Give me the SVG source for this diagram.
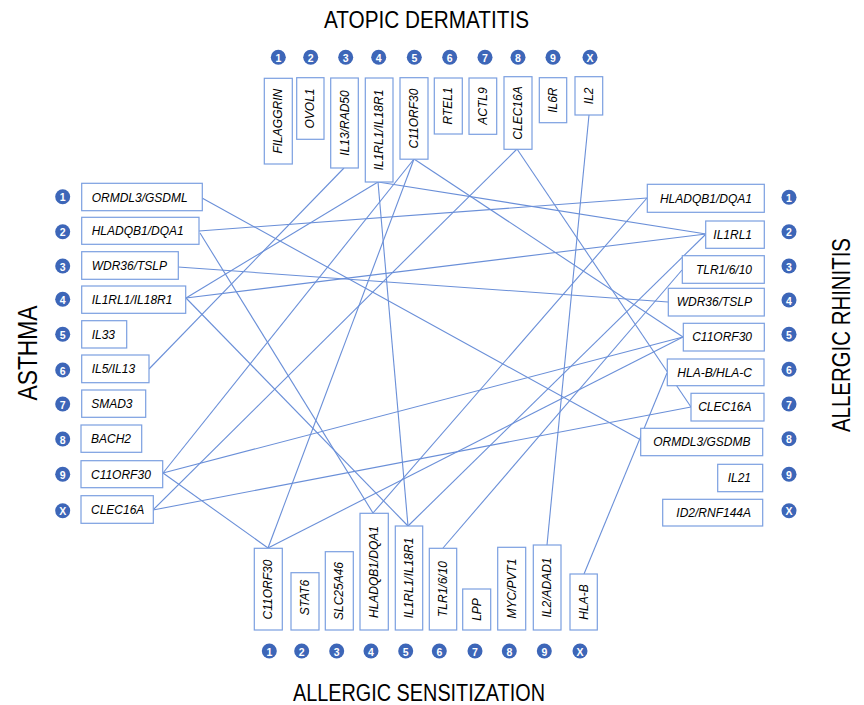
<svg xmlns="http://www.w3.org/2000/svg" width="864" height="705" viewBox="0 0 864 705">
<style>
.bx{fill:#fff;stroke:#7b9fe0;stroke-width:1.2}
.lb{font-family:"Liberation Sans",Arial,sans-serif;font-style:italic;font-size:12px;fill:#000}
.vt{font-family:"Liberation Sans",Arial,sans-serif;font-style:italic;font-size:12px;fill:#000;text-anchor:middle;dominant-baseline:central}
.ci{fill:#3d66b8}
.cn{font-family:"Liberation Sans",Arial,sans-serif;font-weight:bold;font-size:10.5px;fill:#fff;text-anchor:middle;dominant-baseline:central}
.ti{font-family:"Liberation Sans",Arial,sans-serif;fill:#000;text-anchor:middle}
.cx line{stroke:#6a8fd8;stroke-width:1.1}
</style>
<rect width="864" height="705" fill="#fff"/>
<text class="ti" x="426.5" y="28" font-size="23" textLength="205" lengthAdjust="spacingAndGlyphs">ATOPIC DERMATITIS</text>
<text class="ti" x="419" y="701" font-size="23" textLength="252" lengthAdjust="spacingAndGlyphs">ALLERGIC SENSITIZATION</text>
<text class="ti" transform="translate(37,353) rotate(-90)" font-size="27" textLength="95" lengthAdjust="spacingAndGlyphs">ASTHMA</text>
<text class="ti" transform="translate(850,335) rotate(-90)" font-size="25" textLength="194" lengthAdjust="spacingAndGlyphs">ALLERGIC RHINITIS</text>
<g id="connectors" class="cx">
<line x1="202" y1="198" x2="641" y2="440"/>
<line x1="199" y1="231" x2="647" y2="198"/>
<line x1="200" y1="233" x2="373" y2="513"/>
<line x1="178" y1="267" x2="668" y2="302"/>
<line x1="186" y1="298" x2="706" y2="234"/>
<line x1="186" y1="298" x2="378" y2="182"/>
<line x1="186" y1="298" x2="408" y2="526"/>
<line x1="149" y1="369" x2="344" y2="168"/>
<line x1="163" y1="473" x2="414" y2="159"/>
<line x1="163" y1="473" x2="683" y2="337"/>
<line x1="163" y1="473" x2="268" y2="548"/>
<line x1="153" y1="510" x2="517" y2="149"/>
<line x1="153" y1="510" x2="691" y2="407"/>
<line x1="378" y1="182" x2="706" y2="234"/>
<line x1="378" y1="182" x2="408" y2="526"/>
<line x1="414" y1="159" x2="683" y2="337"/>
<line x1="414" y1="159" x2="268" y2="548"/>
<line x1="517" y1="149" x2="691" y2="407"/>
<line x1="589" y1="115" x2="547" y2="545"/>
<line x1="647" y1="198" x2="373" y2="513"/>
<line x1="706" y1="234" x2="408" y2="526"/>
<line x1="682" y1="270" x2="443" y2="548"/>
<line x1="683" y1="337" x2="268" y2="548"/>
<line x1="667" y1="373" x2="584" y2="574"/>
</g>
<!-- Top: Atopic dermatitis -->
<g id="t1"><circle class="ci" cx="278.3" cy="57.3" r="7.5"/><text class="cn" x="278.3" y="57.8">1</text><rect class="bx" x="264.3" y="78.3" width="28" height="85.7"/><text class="vt" transform="translate(278.3,121.2) rotate(-90)">FILAGGRIN</text></g>
<g id="t2"><circle class="ci" cx="310.7" cy="57.3" r="7.5"/><text class="cn" x="310.7" y="57.8">2</text><rect class="bx" x="296.7" y="77.7" width="27.3" height="61.6"/><text class="vt" transform="translate(310.3,108.5) rotate(-90)">OVOL1</text></g>
<g id="t3"><circle class="ci" cx="345.7" cy="57.3" r="7.5"/><text class="cn" x="345.7" y="57.8">3</text><rect class="bx" x="330.7" y="78" width="27.6" height="90"/><text class="vt" transform="translate(344.5,123) rotate(-90)">IL13/RAD50</text></g>
<g id="t4"><circle class="ci" cx="378.7" cy="57.3" r="7.5"/><text class="cn" x="378.7" y="57.8">4</text><rect class="bx" x="365.3" y="78" width="27.7" height="104"/><text class="vt" transform="translate(379.2,130) rotate(-90)">IL1RL1/IL18R1</text></g>
<g id="t5"><circle class="ci" cx="414.3" cy="57.3" r="7.5"/><text class="cn" x="414.3" y="57.8">5</text><rect class="bx" x="400" y="77.7" width="28" height="81.5"/><text class="vt" transform="translate(414,118.5) rotate(-90)">C11ORF30</text></g>
<g id="t6"><circle class="ci" cx="449.7" cy="57.3" r="7.5"/><text class="cn" x="449.7" y="57.8">6</text><rect class="bx" x="434.3" y="78" width="28" height="56"/><text class="vt" transform="translate(448.3,106) rotate(-90)">RTEL1</text></g>
<g id="t7"><circle class="ci" cx="485" cy="57.3" r="7.5"/><text class="cn" x="485" y="57.8">7</text><rect class="bx" x="469" y="78" width="27.7" height="56.3"/><text class="vt" transform="translate(482.8,106) rotate(-90)">ACTL9</text></g>
<g id="t8"><circle class="ci" cx="518" cy="57.3" r="7.5"/><text class="cn" x="518" y="57.8">8</text><rect class="bx" x="504" y="76.7" width="28" height="72.6"/><text class="vt" transform="translate(518,113) rotate(-90)">CLEC16A</text></g>
<g id="t9"><circle class="ci" cx="553" cy="57.3" r="7.5"/><text class="cn" x="553" y="57.8">9</text><rect class="bx" x="539.3" y="77.7" width="27.4" height="45"/><text class="vt" transform="translate(553,100.2) rotate(-90)">IL6R</text></g>
<g id="t10"><circle class="ci" cx="590" cy="57.3" r="7.5"/><text class="cn" x="590" y="57.8">X</text><rect class="bx" x="575" y="76.7" width="27.7" height="38.3"/><text class="vt" transform="translate(588.8,95.8) rotate(-90)">IL2</text></g>
<!-- Left: Asthma -->
<g id="l1"><circle class="ci" cx="62.7" cy="196.7" r="7.5"/><text class="cn" x="62.7" y="197.2">1</text><rect class="bx" x="81.7" y="183.3" width="120.6" height="27.4"/><text class="lb" x="91.7" y="201.5">ORMDL3/GSDML</text></g>
<g id="l2"><circle class="ci" cx="62.7" cy="231.7" r="7.5"/><text class="cn" x="62.7" y="232.2">2</text><rect class="bx" x="81.7" y="217.3" width="117.3" height="27"/><text class="lb" x="91.7" y="235.3">HLADQB1/DQA1</text></g>
<g id="l3"><circle class="ci" cx="62.7" cy="266" r="7.5"/><text class="cn" x="62.7" y="266.5">3</text><rect class="bx" x="81.7" y="251.7" width="96.6" height="27.6"/><text class="lb" x="91.7" y="269.8">WDR36/TSLP</text></g>
<g id="l4"><circle class="ci" cx="62.7" cy="299.3" r="7.5"/><text class="cn" x="62.7" y="299.8">4</text><rect class="bx" x="81.7" y="286" width="104" height="27.3"/><text class="lb" x="91.7" y="304">IL1RL1/IL18R1</text></g>
<g id="l5"><circle class="ci" cx="62.7" cy="334.3" r="7.5"/><text class="cn" x="62.7" y="334.8">5</text><rect class="bx" x="81.7" y="320.7" width="45" height="27.3"/><text class="lb" x="91.7" y="338.7">IL33</text></g>
<g id="l6"><circle class="ci" cx="62.7" cy="370" r="7.5"/><text class="cn" x="62.7" y="370.5">6</text><rect class="bx" x="81.7" y="355" width="67.3" height="27.7"/><text class="lb" x="91.7" y="373.2">IL5/IL13</text></g>
<g id="l7"><circle class="ci" cx="62.7" cy="404" r="7.5"/><text class="cn" x="62.7" y="404.5">7</text><rect class="bx" x="81.7" y="390" width="64" height="27.3"/><text class="lb" x="91.2" y="408">SMAD3</text></g>
<g id="l8"><circle class="ci" cx="62.7" cy="439" r="7.5"/><text class="cn" x="62.7" y="439.5">8</text><rect class="bx" x="81" y="425" width="60.7" height="27.3"/><text class="lb" x="91" y="443">BACH2</text></g>
<g id="l9"><circle class="ci" cx="62.7" cy="474.3" r="7.5"/><text class="cn" x="62.7" y="474.8">9</text><rect class="bx" x="81" y="460.7" width="81.7" height="27"/><text class="lb" x="91" y="478.5">C11ORF30</text></g>
<g id="l10"><circle class="ci" cx="62.7" cy="510.7" r="7.5"/><text class="cn" x="62.7" y="511.2">X</text><rect class="bx" x="81" y="495.7" width="72.3" height="27.6"/><text class="lb" x="91" y="513.8">CLEC16A</text></g>
<!-- Right: Allergic rhinitis -->
<g id="r1"><circle class="ci" cx="789" cy="197.3" r="7.5"/><text class="cn" x="789" y="197.8">1</text><rect class="bx" x="647.3" y="184.3" width="117" height="28"/><text class="lb" x="752" y="202.6" text-anchor="end">HLADQB1/DQA1</text></g>
<g id="r2"><circle class="ci" cx="789" cy="231.7" r="7.5"/><text class="cn" x="789" y="232.2">2</text><rect class="bx" x="705.7" y="221" width="58.6" height="27.3"/><text class="lb" x="752" y="238.9" text-anchor="end">IL1RL1</text></g>
<g id="r3"><circle class="ci" cx="789" cy="266" r="7.5"/><text class="cn" x="789" y="266.5">3</text><rect class="bx" x="682.3" y="255.7" width="82" height="27.6"/><text class="lb" x="752" y="273.8" text-anchor="end">TLR1/6/10</text></g>
<g id="r4"><circle class="ci" cx="789" cy="300" r="7.5"/><text class="cn" x="789" y="300.5">4</text><rect class="bx" x="668.3" y="288.3" width="96" height="27.7"/><text class="lb" x="752" y="306.4" text-anchor="end">WDR36/TSLP</text></g>
<g id="r5"><circle class="ci" cx="789" cy="334.3" r="7.5"/><text class="cn" x="789" y="334.8">5</text><rect class="bx" x="683.3" y="323.3" width="81" height="27.7"/><text class="lb" x="752" y="341.4" text-anchor="end">C11ORF30</text></g>
<g id="r6"><circle class="ci" cx="789" cy="369.3" r="7.5"/><text class="cn" x="789" y="369.8">6</text><rect class="bx" x="667.3" y="359" width="96.7" height="26.7"/><text class="lb" x="752" y="376.6" text-anchor="end">HLA-B/HLA-C</text></g>
<g id="r7"><circle class="ci" cx="789" cy="404" r="7.5"/><text class="cn" x="789" y="404.5">7</text><rect class="bx" x="691" y="393.3" width="73" height="27.7"/><text class="lb" x="751.5" y="411.4" text-anchor="end">CLEC16A</text></g>
<g id="r8"><circle class="ci" cx="789" cy="438.7" r="7.5"/><text class="cn" x="789" y="439.2">8</text><rect class="bx" x="640.7" y="428.3" width="122" height="27.4"/><text class="lb" x="750.5" y="446.3" text-anchor="end">ORMDL3/GSDMB</text></g>
<g id="r9"><circle class="ci" cx="789" cy="474.3" r="7.5"/><text class="cn" x="789" y="474.8">9</text><rect class="bx" x="717.7" y="464.3" width="45" height="27.4"/><text class="lb" x="751" y="482.3" text-anchor="end">IL21</text></g>
<g id="r10"><circle class="ci" cx="789" cy="510.7" r="7.5"/><text class="cn" x="789" y="511.2">X</text><rect class="bx" x="662.7" y="499.3" width="100" height="26.7"/><text class="lb" x="751" y="517" text-anchor="end">ID2/RNF144A</text></g>
<!-- Bottom: Allergic sensitization -->
<g id="b1"><rect class="bx" x="254.3" y="548.3" width="28" height="81.7"/><text class="vt" transform="translate(268.3,589.5) rotate(-90)">C11ORF30</text><circle class="ci" cx="269.3" cy="651" r="7.5"/><text class="cn" x="269.3" y="651.5">1</text></g>
<g id="b2"><rect class="bx" x="291" y="572.7" width="28" height="57.3"/><text class="vt" transform="translate(305,597.5) rotate(-90)">STAT6</text><circle class="ci" cx="301.7" cy="651" r="7.5"/><text class="cn" x="301.7" y="651.5">2</text></g>
<g id="b3"><rect class="bx" x="325.3" y="551.7" width="28" height="78.3"/><text class="vt" transform="translate(339.3,591) rotate(-90)">SLC25A46</text><circle class="ci" cx="336.7" cy="651" r="7.5"/><text class="cn" x="336.7" y="651.5">3</text></g>
<g id="b4"><rect class="bx" x="360" y="513.3" width="28.3" height="116.7"/><text class="vt" transform="translate(374.2,572) rotate(-90)">HLADQB1/DQA1</text><circle class="ci" cx="371" cy="651" r="7.5"/><text class="cn" x="371" y="651.5">4</text></g>
<g id="b5"><rect class="bx" x="395.3" y="526" width="27.4" height="104"/><text class="vt" transform="translate(409,578) rotate(-90)">IL1RL1/IL18R1</text><circle class="ci" cx="405.7" cy="651" r="7.5"/><text class="cn" x="405.7" y="651.5">5</text></g>
<g id="b6"><rect class="bx" x="429.3" y="548.3" width="27.4" height="81.7"/><text class="vt" transform="translate(443,589) rotate(-90)">TLR1/6/10</text><circle class="ci" cx="439.3" cy="651" r="7.5"/><text class="cn" x="439.3" y="651.5">6</text></g>
<g id="b7"><rect class="bx" x="462.7" y="589" width="28" height="41"/><text class="vt" transform="translate(476.7,609.5) rotate(-90)">LPP</text><circle class="ci" cx="475" cy="651" r="7.5"/><text class="cn" x="475" y="651.5">7</text></g>
<g id="b8"><rect class="bx" x="497.7" y="547.3" width="28" height="82.7"/><text class="vt" transform="translate(511.7,588.5) rotate(-90)">MYC/PVT1</text><circle class="ci" cx="509.3" cy="651" r="7.5"/><text class="cn" x="509.3" y="651.5">8</text></g>
<g id="b9"><rect class="bx" x="533.3" y="545" width="27.7" height="85"/><text class="vt" transform="translate(547.2,587.5) rotate(-90)">IL2/ADAD1</text><circle class="ci" cx="544.3" cy="651" r="7.5"/><text class="cn" x="544.3" y="651.5">9</text></g>
<g id="b10"><rect class="bx" x="570" y="574" width="27.3" height="56"/><text class="vt" transform="translate(583.7,602) rotate(-90)">HLA-B</text><circle class="ci" cx="580" cy="651" r="7.5"/><text class="cn" x="580" y="651.5">X</text></g>
</svg>
